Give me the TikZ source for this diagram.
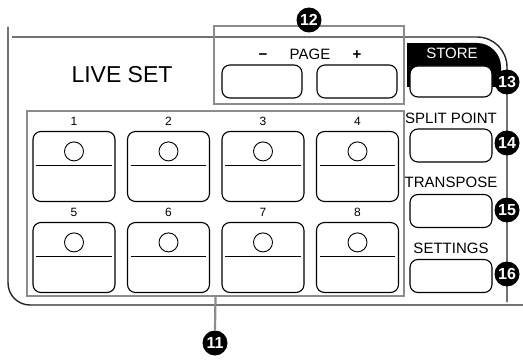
\documentclass[tikz,border=0pt]{standalone}
\usepackage{fontspec}
\setmainfont{Liberation Sans}
\usetikzlibrary{positioning}

\tikzset{
  panel/.style = {draw=black!85, line width=1.4pt},
  hilite/.style = {draw=black!45, line width=2.2pt},
  pad/.style = {draw, line width=1.1pt, fill=white, rounded corners=8pt,
                minimum width=82pt, minimum height=70pt, inner sep=0pt},
  key/.style = {draw, line width=1.1pt, fill=white, rounded corners=8pt,
                minimum width=82pt, minimum height=33pt, inner sep=0pt},
  lamp/.style = {draw, line width=0.9pt, circle, minimum size=19pt, inner sep=0pt},
  badge/.style = {circle, fill=black, text=white, inner sep=0pt, minimum size=25pt,
                  font=\bfseries\fontsize{16}{16}\selectfont},
  lbl/.style = {inner sep=0pt, font=\fontsize{15}{15}\selectfont},
  num/.style = {inner sep=0pt, font=\fontsize{12}{12}\selectfont},
}

\begin{document}
\begin{tikzpicture}[x=1pt,y=-1pt]
      \useasboundingbox (0,0) rectangle (523,361);

      % Panel outline
      \draw[panel, rounded corners=22pt] (8,27) -- (8,305) -- (523,305);
      \draw[panel, rounded corners=30pt] (12,37) -- (507,37) -- (507,302);
      \fill (407,43) rectangle (460,87);
      \begin{scope}
        \clip (400,30) rectangle (510,87);
        \fill[rounded corners=24pt] (430,43) rectangle (501,120);
      \end{scope}
      \node[inner sep=0pt, font=\fontsize{23}{23}\selectfont] (liveset) at (122,75) {LIVE SET};

      % Groups
      \node[hilite, minimum width=377pt, minimum height=185pt, inner sep=0pt] (grp11) at (215.5,203.5) {};
      \node[hilite, minimum width=190pt, minimum height=78pt, inner sep=0pt] (grp12) at (309,65) {};

      % Live set pads
      \foreach \n/\x/\y in {1/74/166.5, 2/168.5/166.5, 3/263/166.5, 4/357.5/166.5,
                            5/74/257.5, 6/168.5/257.5, 7/263/257.5, 8/357.5/257.5}{
        \node[pad] (pad\n) at (\x,\y) {};
        \node[num, above=5pt of pad\n] (num\n) {\n};
        \node[lamp, below=10.5pt of pad\n.north] (lamp\n) {};
        \draw[line width=1pt] ([xshift=4pt,yshift=-35pt]pad\n.north west) -- ([xshift=-4pt,yshift=-35pt]pad\n.north east);
      }

      % Page keys
      \node[key, minimum width=80pt] (pgdown) at (262,81.5) {};
      \node[key, minimum width=80pt] (pgup) at (357,81.5) {};
      \node[lbl, anchor=base] (minus) at (263,60) {\bfseries −};
      \node[lbl, anchor=base] (page) at (310,60) {PAGE};
      \node[lbl, anchor=base] (plus) at (357,60) {\bfseries +};

      % Side keys
      \node[key, minimum height=31pt] (store) at (451,81.5) {};
      \node[lbl, text=white] (storelbl) at (452,53) {STORE};
      \node[key] (split) at (451,145.5) {};
      \node[lbl, above=5pt of split] (splitlbl) {SPLIT POINT};
      \node[key] (transp) at (451,211) {};
      \node[lbl, above=6pt of transp] (transplbl) {TRANSPOSE};
      \node[key] (settings) at (451,276) {};
      \node[lbl, above=5pt of settings] (settingslbl) {SETTINGS};

      % Callouts
      \node[badge] (b11) at (215,343) {11};
      \draw[hilite] (grp11.south) -- (b11.north);
      \node[badge] (b12) at (309,20) {12};
      \node[badge] (b13) at (507,82) {13};
      \node[badge] (b14) at (507,143) {14};
      \node[badge] (b15) at (507,210) {15};
      \node[badge] (b16) at (507,274) {16};
\end{tikzpicture}
\end{document}
